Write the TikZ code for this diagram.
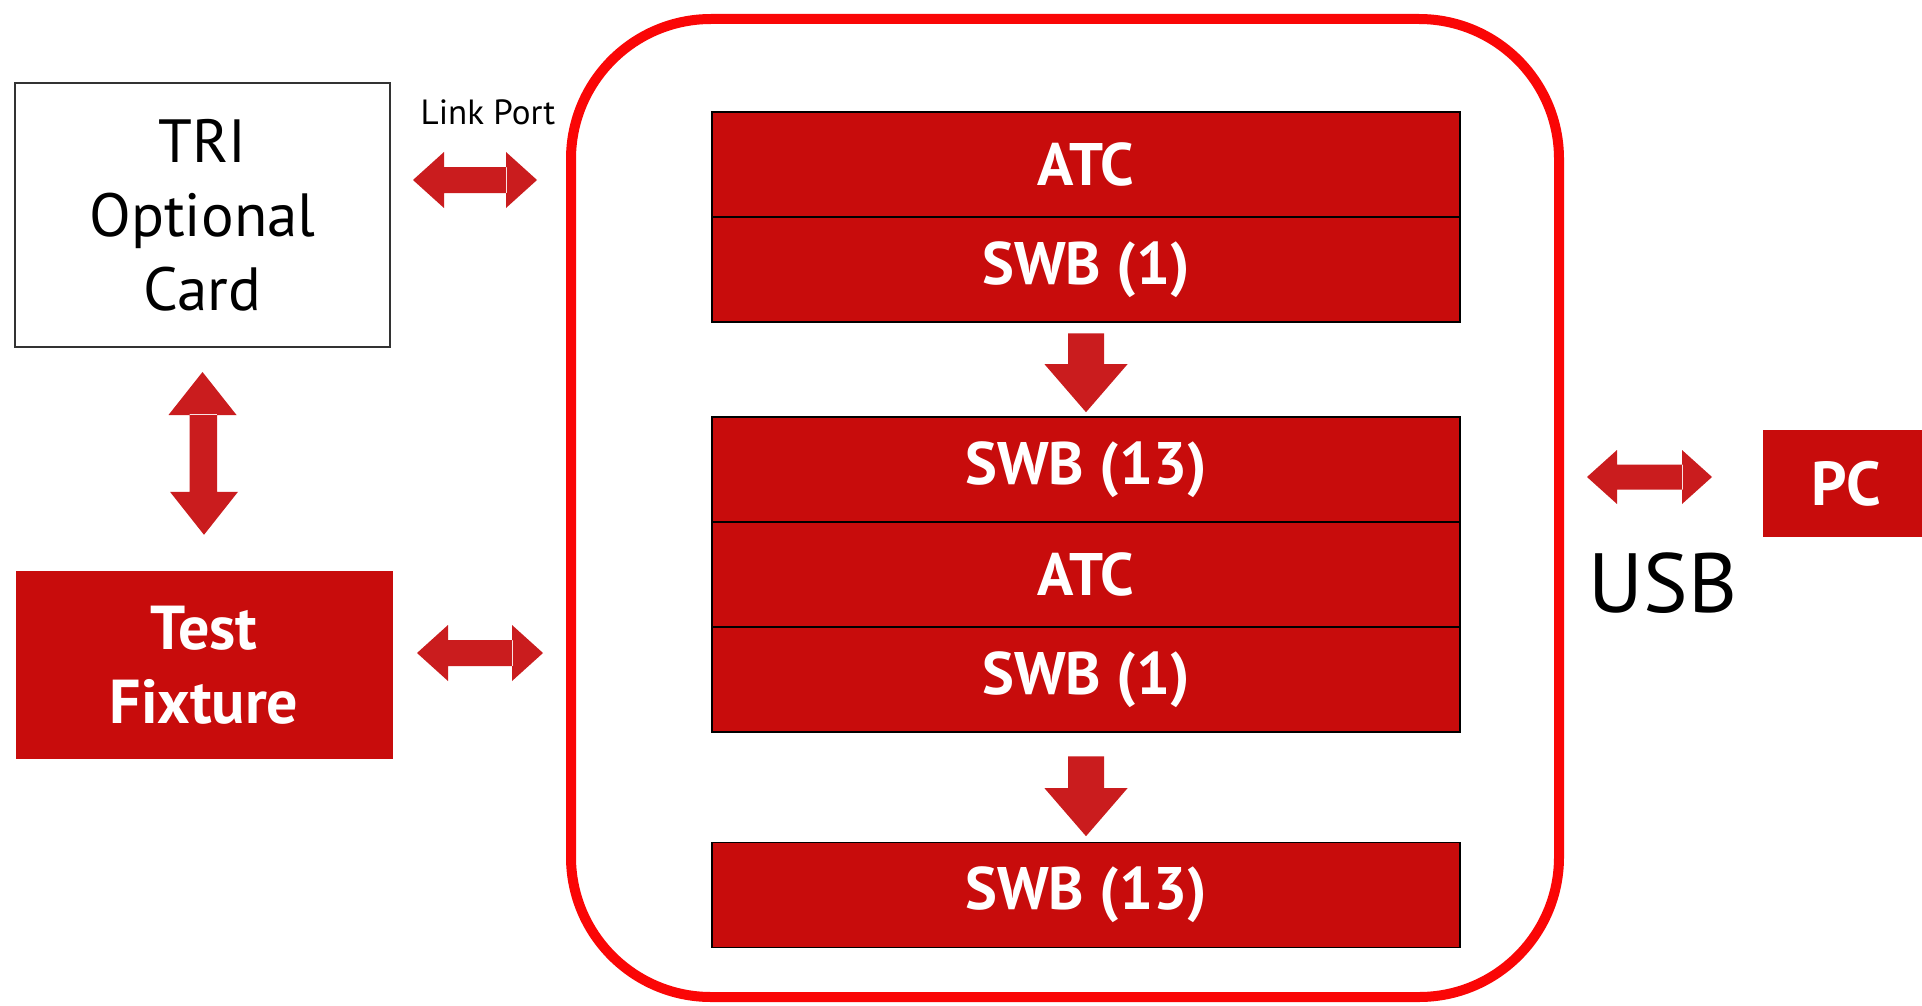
\documentclass[tikz,border=0pt]{standalone}
\usepackage{fontspec}
\setmainfont{PT Sans}
\usetikzlibrary{calc}

\definecolor{blockred}{RGB}{200,12,12}
\definecolor{arrowred}{RGB}{202,28,30}
\definecolor{framered}{RGB}{250,6,6}

\tikzset{
  plainbox/.style={draw=black!80, line width=2pt, fill=white, inner sep=0pt, align=center,
    font=\fontsize{61}{74}\selectfont},
  redbox/.style={draw=none, fill=blockred, text=white, inner sep=0pt, align=center,
    font=\bfseries\fontsize{62}{74}\selectfont},
  layer/.style={draw=black, line width=1.6pt, fill=blockred, text=white, inner sep=0pt,
    minimum width=748pt, minimum height=105pt, font=\bfseries\fontsize{60}{70}\selectfont},
  frame/.style={draw=framered, line width=10pt, rounded corners=140pt, inner sep=0pt,
    minimum width=988pt, minimum height=978pt},
  % block arrows: #1 head length, #2 head half-width, #3 shaft half-width;
  % shaft and heads are separate filled pieces
  fatH/.style n args={3}{fill=arrowred, to path={
    let \p1=(\tikztostart), \p2=(\tikztotarget) in
    (\x1+#1-1pt,\y1-#3) rectangle (\x2-#1+1pt,\y2+#3)
    (\x1,\y1) -- (\x1+#1,\y1+#2) -- (\x1+#1,\y1-#2) -- cycle
    (\x2,\y2) -- (\x2-#1,\y2+#2) -- (\x2-#1,\y2-#2) -- cycle}},
  fatV/.style n args={3}{fill=arrowred, to path={
    let \p1=(\tikztostart), \p2=(\tikztotarget) in
    (\x1-#3,\y1-#1+1pt) rectangle (\x2+#3,\y2+#1-1pt)
    (\x1,\y1) -- (\x1+#2,\y1-#1) -- (\x1-#2,\y1-#1) -- cycle
    (\x2,\y2) -- (\x2+#2,\y2+#1) -- (\x2-#2,\y2+#1) -- cycle}},
  fatD/.style n args={3}{fill=arrowred, to path={
    let \p1=(\tikztostart), \p2=(\tikztotarget) in
    (\x1-#3,\y1) rectangle (\x2+#3,\y2+#1-1pt)
    (\x2,\y2) -- (\x2+#2,\y2+#1) -- (\x2-#2,\y2+#1) -- cycle}},
}

\begin{document}
\begin{tikzpicture}[x=1pt,y=-1pt]
\useasboundingbox[fill=white] (0,0) rectangle (1922,1006);

% outer controller frame
\node[frame] (frame) at (1065,508) {};

% left-hand units
\node[plainbox, minimum width=375pt, minimum height=264pt] (tri) at (202.5,215) {TRI\\Optional\\Card};
\node[redbox, minimum width=377pt, minimum height=188pt] (tf) at (204,665) {Test\\Fixture};
\node[font=\fontsize{35}{40}\selectfont] (lplabel) at (488,112) {Link Port};

% stacked boards inside the frame
\node[layer] (b1a) at (1086,164.5) {ATC};
\node[layer] (b1b) at (1086,269.5) {SWB (1)};
\node[layer] (b2a) at (1086,469.5) {SWB (13)};
\node[layer] (b2b) at (1086,574.5) {ATC};
\node[layer] (b2c) at (1086,679.5) {SWB (1)};
\node[layer] (b3)  at (1086,895)   {SWB (13)};

% PC side
\node[redbox, minimum width=166pt, minimum height=107pt, font=\bfseries\fontsize{62}{70}\selectfont] (pc) at (1846,483.5) {PC};
\node[font=\fontsize{84}{90}\selectfont] (usb) at (1663,583) {USB};

% arrow end points
\coordinate (lpA) at (413,180);
\coordinate (lpB) at (537,180);
\coordinate (tfA) at (417,653);
\coordinate (tfB) at (543,653);
\coordinate (usbA) at (1587,477);
\coordinate (usbB) at (1712,477);

% connectors
\path[fatH={31pt}{28pt}{13pt}] (lpA) to (lpB);
\path[fatH={31pt}{28pt}{13pt}] (tfA) to (tfB);
\path[fatH={30pt}{27pt}{12.5pt}] (usbA) to (usbB);
\path[fatV={43pt}{34pt}{13pt}] ([yshift=-24pt]tri.south) to ([yshift=36pt]tf.north);
\path[fatD={48pt}{41.5pt}{18pt}] ([yshift=-10.5pt]b1b.south) to ([yshift=4pt]b2a.north);
\path[fatD={48pt}{41.5pt}{18pt}] ([yshift=-23.5pt]b2c.south) to ([yshift=5.5pt]b3.north);
\end{tikzpicture}
\end{document}
